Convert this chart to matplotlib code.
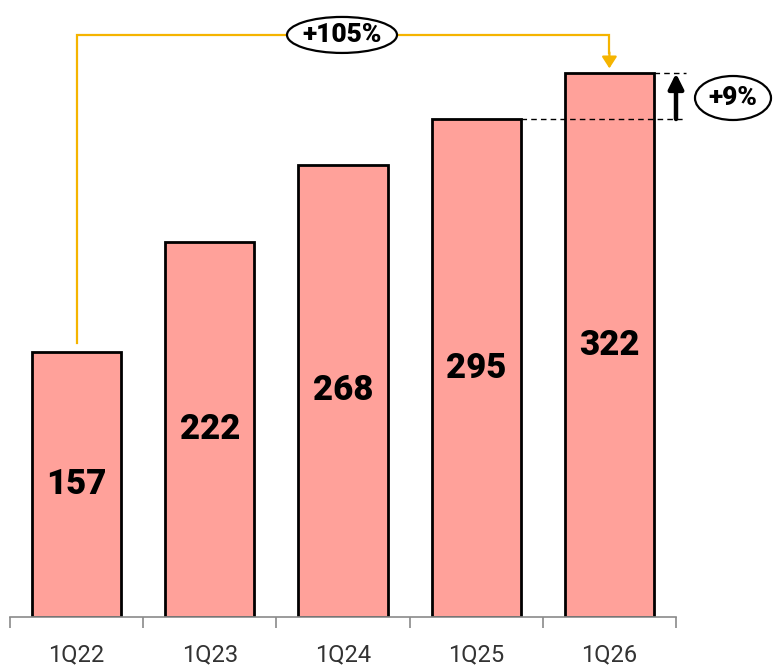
import numpy as np
import matplotlib
matplotlib.use("Agg")
import matplotlib.pyplot as plt
from matplotlib.patches import Ellipse

quarters = ["1Q22", "1Q23", "1Q24", "1Q25", "1Q26"]
values = [157, 222, 268, 295, 322]
growth_total = "+105%"
growth_yoy = "+9%"

BAR = "#ffa19a"
GOLD = "#f5b400"
AXIS = "#8a8a8a"
plt.rcParams["font.family"] = ["Roboto", "DejaVu Sans"]

fig = plt.figure(figsize=(7.74, 6.67), dpi=100)
ax = fig.add_axes([10 / 774, 50 / 667, 666 / 774, 617 / 667])
x = np.arange(len(values))
ax.set_xlim(-0.5, len(values) - 0.5)
ax.set_ylim(0, 365.5)

bars = ax.bar(x, values, width=0.67, color=BAR, edgecolor="black", linewidth=2.0, zorder=2)
for xi, v in zip(x, values):
    ax.text(xi, v / 2, f"{v}", ha="center", va="center", fontsize=25, fontweight="heavy", color="black", zorder=3)

# axis: only the bottom line with ticks on category boundaries
for s in ("top", "right", "left"):
    ax.spines[s].set_visible(False)
ax.spines["bottom"].set_color(AXIS)
ax.spines["bottom"].set_linewidth(1.2)
ax.spines["bottom"].set_zorder(4)
ax.set_yticks([])
ax.set_xticks(np.arange(-0.5, len(values)), minor=False)
ax.set_xticklabels([])
ax.tick_params(axis="x", length=8, width=1.2, color=AXIS)
ax.set_xticks(x, minor=True)
ax.set_xticklabels(quarters, minor=True, fontsize=17, color="#333333")
ax.tick_params(axis="x", which="minor", length=0, pad=19)

# bracket: first quarter -> last quarter
px_x = 133.2  # pixels per x unit
px_y = 617 / 365.5  # pixels per y unit
top_y = 344.8
ax.plot([x[0], x[0], x[-1], x[-1]], [values[0] + 5.3, top_y, top_y, values[-1] + 12],
        color=GOLD, lw=1.6, zorder=3, clip_on=False, solid_joinstyle="miter")
ax.annotate("", xy=(x[-1], values[-1] + 3), xytext=(x[-1], values[-1] + 12.5),
            arrowprops=dict(arrowstyle="-|>,head_length=0.7,head_width=0.45", color=GOLD, lw=1.6,
                            shrinkA=0, shrinkB=0), zorder=3, annotation_clip=False)
ecx = (342 - 10) / px_x - 0.5
ax.add_patch(Ellipse((ecx, top_y), 110 / px_x, 36 / px_y, facecolor="white", edgecolor="black",
                     lw=1.6, zorder=5, clip_on=False))
ax.text(ecx, top_y, growth_total, ha="center", va="center", fontsize=19, fontweight="heavy", zorder=6)

# year-on-year step
xr = 4.575
ax.plot([x[-1] + 0.335, xr], [values[-1]] * 2, color="black", lw=1, ls=(0, (4, 3)), zorder=3, clip_on=False)
ax.plot([x[-2] + 0.335, xr], [values[-2]] * 2, color="black", lw=1, ls=(0, (4, 3)), zorder=3, clip_on=False)
ax.annotate("", xy=(4.5, values[-1]), xytext=(4.5, values[-2]),
            arrowprops=dict(arrowstyle="-|>,head_length=0.9,head_width=0.45", color="black", lw=3.2,
                            shrinkA=0, shrinkB=0), zorder=4, annotation_clip=False)
ycx = (733 - 10) / px_x - 0.5
ycy = (617 - 98) / px_y
ax.add_patch(Ellipse((ycx, ycy), 76 / px_x, 44 / px_y, facecolor="white", edgecolor="black",
                     lw=1.6, zorder=5, clip_on=False))
ax.text(ycx, ycy, growth_yoy, ha="center", va="center", fontsize=19, fontweight="heavy", zorder=6)

fig.savefig("out.png", dpi=100)
